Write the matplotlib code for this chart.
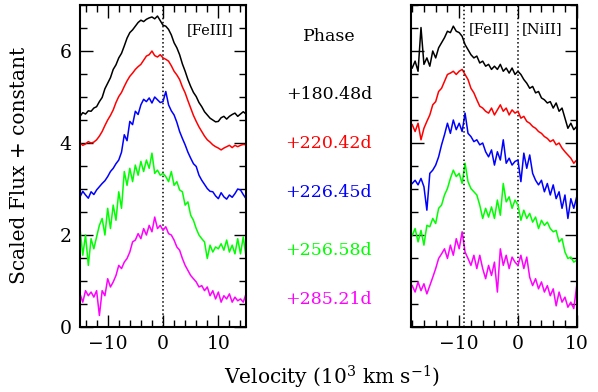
import numpy as np
import matplotlib
matplotlib.use("Agg")
import matplotlib.pyplot as plt
from matplotlib.ticker import MultipleLocator

plt.rcParams['font.family'] = ['DejaVu Serif']
plt.rcParams['mathtext.fontset'] = 'dejavuserif'

#####################
# data (velocity in 10^3 km/s, scaled flux + offset)
phases = ['+180.48d', '+220.42d', '+226.45d', '+256.58d', '+285.21d']
colors = ['black', '#ff0000', '#0000ff', '#00ff00', '#ff00ff']

# [FeIII] panel, -15 .. 15 in steps of 0.5
v_left = np.arange(-15, 15.01, 0.5)
fe3_black = [4.58, 4.66, 4.63, 4.70, 4.69, 4.76, 4.79, 4.90, 4.99, 5.18, 5.30, 5.42, 5.60, 5.70,
             5.85, 5.95, 6.11, 6.28, 6.40, 6.46, 6.54, 6.62, 6.67, 6.64, 6.69, 6.72, 6.74, 6.70,
             6.76, 6.66, 6.56, 6.54, 6.47, 6.35, 6.18, 6.07, 5.92, 5.72, 5.56, 5.38, 5.23, 5.10,
             5.01, 4.88, 4.79, 4.68, 4.61, 4.54, 4.50, 4.46, 4.47, 4.55, 4.58, 4.52, 4.58, 4.62,
             4.65, 4.58, 4.63, 4.68, 4.63]
fe3_red = [4.00, 3.95, 3.98, 4.03, 4.00, 4.02, 4.07, 4.15, 4.25, 4.38, 4.50, 4.60, 4.72, 4.88,
           5.01, 5.10, 5.23, 5.35, 5.45, 5.52, 5.60, 5.66, 5.71, 5.80, 5.89, 5.92, 6.00, 5.90,
           5.87, 5.92, 5.85, 5.82, 5.78, 5.68, 5.56, 5.48, 5.38, 5.22, 5.09, 4.92, 4.76, 4.60,
           4.47, 4.35, 4.25, 4.15, 4.07, 4.02, 3.96, 3.92, 3.89, 3.85, 3.89, 3.92, 3.95, 3.90,
           3.95, 3.92, 3.95, 3.97, 3.96]
fe3_blue = [2.83, 2.95, 2.87, 2.80, 2.94, 2.88, 2.98, 3.05, 3.12, 3.18, 3.27, 3.38, 3.45, 3.55,
            3.63, 3.80, 4.18, 4.05, 4.47, 4.40, 4.69, 4.62, 4.83, 4.95, 4.90, 4.98, 4.87, 5.00,
            4.94, 4.88, 4.90, 5.12, 4.83, 4.70, 4.61, 4.45, 4.25, 4.10, 3.96, 3.80, 3.67, 3.55,
            3.49, 3.30, 3.19, 3.10, 3.01, 2.95, 2.94, 2.85, 2.79, 2.92, 2.83, 2.78, 2.87, 2.82,
            2.90, 3.00, 2.98, 2.88, 2.79]
fe3_green = [2.14, 1.56, 2.00, 1.34, 1.92, 1.70, 1.96, 2.21, 2.36, 2.00, 2.58, 2.14, 2.65, 2.32,
             2.94, 2.58, 3.38, 3.08, 3.45, 3.16, 3.52, 3.30, 3.60, 3.38, 3.63, 3.45, 3.78, 3.34,
             3.41, 3.30, 3.34, 3.27, 3.16, 3.38, 3.08, 3.16, 2.98, 2.94, 2.65, 2.72, 2.43, 2.32,
             2.14, 2.00, 1.92, 1.85, 1.49, 1.78, 1.63, 1.74, 1.70, 1.81, 1.67, 1.89, 1.63, 1.78,
             1.59, 1.92, 1.59, 1.96, 1.52]
fe3_magenta = [0.72, 0.54, 0.79, 0.68, 0.76, 0.65, 0.79, 0.25, 0.79, 0.68, 1.05, 0.87, 0.98, 1.12,
               1.34, 1.27, 1.41, 1.49, 1.63, 1.85, 1.89, 2.03, 1.92, 2.14, 2.00, 2.21, 2.07, 2.39,
               2.14, 2.21, 2.10, 2.18, 2.03, 2.00, 1.89, 1.74, 1.67, 1.49, 1.34, 1.23, 1.12, 1.05,
               0.98, 0.87, 0.90, 0.79, 0.87, 0.68, 0.79, 0.61, 0.76, 0.54, 0.68, 0.61, 0.72, 0.54,
               0.65, 0.57, 0.61, 0.54, 0.72]

# [FeII]/[NiII] panel, -18 .. 10 in steps of 0.5
v_right = np.arange(-18, 10.01, 0.5)
fe2_black = [5.63, 5.78, 5.56, 6.51, 5.71, 5.85, 5.67, 6.00, 5.85, 6.07, 6.18, 6.29, 6.43, 6.40,
             6.54, 6.43, 6.40, 6.32, 6.14, 6.03, 5.92, 5.85, 5.89, 5.74, 5.78, 5.67, 5.71, 5.60,
             5.67, 5.60, 5.71, 5.56, 5.63, 5.52, 5.63, 5.49, 5.56, 5.49, 5.38, 5.30, 5.19, 5.23,
             5.09, 5.12, 4.98, 4.94, 4.87, 4.90, 4.76, 4.87, 4.69, 4.76, 4.54, 4.32, 4.43, 4.29,
             4.36]
fe2_red = [4.40, 4.25, 4.43, 4.07, 4.32, 4.47, 4.61, 4.83, 4.90, 5.12, 5.19, 5.34, 5.49, 5.52,
           5.56, 5.49, 5.56, 5.60, 5.49, 5.38, 5.19, 5.09, 4.94, 4.80, 4.76, 4.69, 4.65, 4.76,
           4.61, 4.72, 4.83, 4.69, 4.76, 4.61, 4.72, 4.65, 4.69, 4.54, 4.58, 4.47, 4.43, 4.36,
           4.32, 4.25, 4.21, 4.14, 4.10, 4.03, 4.07, 3.96, 4.00, 3.89, 3.81, 3.74, 3.67, 3.56,
           3.63]
fe2_blue = [3.12, 3.19, 3.09, 3.23, 3.05, 2.54, 3.34, 3.41, 3.52, 3.70, 3.96, 4.18, 4.43, 4.21,
            4.50, 4.29, 4.43, 4.25, 4.65, 4.21, 4.14, 4.03, 4.07, 3.96, 4.00, 3.81, 3.70, 3.85,
            3.52, 3.81, 3.63, 4.07, 3.56, 3.67, 3.52, 3.60, 3.63, 3.16, 3.78, 3.45, 3.74, 3.34,
            3.19, 3.09, 3.19, 2.94, 3.12, 2.87, 3.09, 2.79, 2.94, 2.58, 2.87, 2.36, 2.79, 2.58,
            2.83]
fe2_green = [1.99, 2.14, 1.85, 2.10, 1.78, 2.21, 2.18, 2.36, 2.25, 2.58, 2.65, 2.87, 3.01, 3.23,
             3.41, 3.27, 3.34, 3.12, 3.56, 3.16, 3.01, 2.94, 2.87, 2.65, 2.36, 2.58, 2.39, 2.61,
             2.36, 2.76, 2.43, 3.12, 2.72, 2.83, 2.58, 2.76, 2.65, 2.32, 2.54, 2.36, 2.47, 2.28,
             2.39, 2.14, 2.32, 2.21, 2.28, 2.14, 2.07, 2.10, 1.85, 1.92, 1.63, 1.49, 1.52, 1.41,
             1.45]
fe2_magenta = [0.90, 0.76, 0.98, 0.79, 0.94, 0.72, 0.90, 1.08, 1.27, 1.49, 1.59, 1.70, 1.49, 1.78,
               1.56, 1.92, 1.70, 2.07, 1.63, 1.49, 1.34, 1.56, 1.27, 1.56, 1.27, 1.05, 1.34, 1.12,
               1.41, 0.76, 1.70, 1.34, 1.56, 1.27, 1.52, 1.41, 1.34, 1.56, 1.27, 1.52, 1.08, 0.90,
               1.05, 0.83, 0.98, 0.76, 0.90, 0.68, 0.83, 0.46, 0.76, 0.54, 0.65, 0.43, 0.54, 0.40,
               0.90]

left_series = [fe3_black, fe3_red, fe3_blue, fe3_green, fe3_magenta]
right_series = [fe2_black, fe2_red, fe2_blue, fe2_green, fe2_magenta]
#####################

fig = plt.figure(figsize=(5.98, 3.92), dpi=100)
ax1 = fig.add_axes([0.1338, 0.1658, 0.2776, 0.8214])
ax2 = fig.add_axes([0.6873, 0.1658, 0.2776, 0.8214])

for ax in (ax1, ax2):
    ax.set_ylim(0, 7)
    ax.yaxis.set_major_locator(MultipleLocator(2))
    ax.yaxis.set_minor_locator(MultipleLocator(0.5))
    ax.xaxis.set_major_locator(MultipleLocator(10))
    ax.xaxis.set_minor_locator(MultipleLocator(2))
    ax.tick_params(which='both', direction='in', top=True, right=True, width=1.0,
                   labelsize=13.5, pad=6)
    ax.tick_params(which='major', length=9)
    ax.tick_params(which='minor', length=5)
    for sp in ax.spines.values():
        sp.set_linewidth(1.5)
    ax.axvline(0, color='black', ls=':', lw=1.1)

for y, c in zip(left_series, colors):
    ax1.plot(v_left, y, color=c, lw=1.1)
for y, c in zip(right_series, colors):
    ax2.plot(v_right, y, color=c, lw=1.1)

ax1.set_xlim(-15, 15)
ax2.set_xlim(-18.2, 10.05)
ax2.axvline(-9.2, color='black', ls=':', lw=1.1)
ax2.set_yticklabels([])

ax1.text(8.45, 6.46, '[FeIII]', ha='center', va='center', fontsize=10.5)
ax2.text(-4.8, 6.47, '[FeII]', ha='center', va='center', fontsize=10.5)
ax2.text(4.1, 6.47, '[NiII]', ha='center', va='center', fontsize=10.5)

# phase labels between the panels
fig.text(0.550, 0.906, 'Phase', ha='center', va='center', fontsize=12.5)
phase_y = [0.758, 0.633, 0.510, 0.362, 0.237]
for lab, c, yy in zip(phases, colors, phase_y):
    fig.text(0.550, yy, lab, color=c, ha='center', va='center', fontsize=12.5)

fig.text(0.555, 0.036, r'Velocity (10$^3$ km s$^{-1}$)', ha='center', va='center', fontsize=14.5)
fig.text(0.033, 0.577, 'Scaled Flux + constant', ha='center', va='center', rotation=90,
         fontsize=14.5)

plt.savefig('out.png', dpi=100)
